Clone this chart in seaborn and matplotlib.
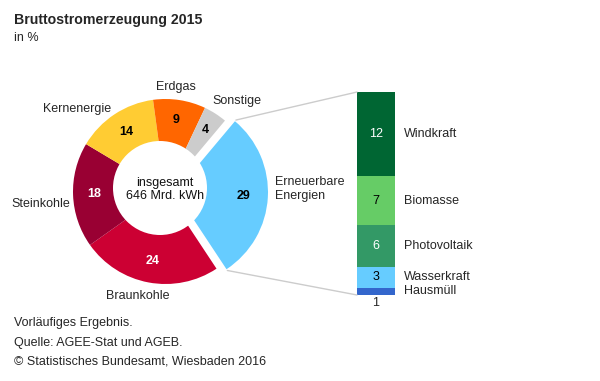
import numpy as np
import pandas as pd
import matplotlib
matplotlib.use("Agg")
import matplotlib.pyplot as plt
from matplotlib.patches import ConnectionPatch, Circle
import seaborn as sns

# ---- data ----
sources = ["Erneuerbare Energien", "Braunkohle", "Steinkohle", "Kernenergie", "Erdgas", "Sonstige"]
shares = [29, 24, 18, 14, 9, 4]
source_colors = ["#66CCFF", "#CC0033", "#990033", "#FFCC33", "#FF6600", "#CCCCCC"]
number_colors = ["black", "white", "white", "black", "black", "black"]

renew = ["Hausmüll", "Wasserkraft", "Photovoltaik", "Biomasse", "Windkraft"]
renew_values = [1, 3, 6, 7, 12]
renew_colors = ["#3366CC", "#66CCFF", "#339966", "#66CC66", "#006633"]
renew_number_colors = ["black", "black", "white", "black", "white"]

title = "Bruttostromerzeugung 2015"
subtitle = "in %"
center_text = "insgesamt\n646 Mrd. kWh"
footer = ["Vorläufiges Ergebnis.", "Quelle: AGEE-Stat und AGEB.",
          "© Statistisches Bundesamt, Wiesbaden 2016"]

sns.set_theme(style="white")
plt.rcParams["font.family"] = ["Liberation Sans", "DejaVu Sans"]

W, H = 600, 381
fig = plt.figure(figsize=(6, 3.81), dpi=100)
ax = fig.add_axes([0, 0, 1, 1])

def Y(y):
    return H - y

# ---- donut (pie + white hole) ----
R = 92.5
cx, cy = 165.5, Y(191.5)
explode = [10] + [0] * (len(shares) - 1)   # pie explode is in data units
wedges, _ = ax.pie(shares, colors=source_colors, startangle=50, counterclock=False,
                   radius=R, center=(cx, cy), explode=explode,
                   wedgeprops=dict(linewidth=0))
ax.add_patch(Circle((160, Y(188)), 47, facecolor="white", linewidth=0, zorder=3))
ax.set_xlim(0, W)
ax.set_ylim(0, H)
ax.set_aspect("auto")
ax.axis("off")

label_r = [68, 71, 71, 71, 72, 73]
for w, v, tc, rm in zip(wedges, shares, number_colors, label_r):
    mid = np.deg2rad((w.theta1 + w.theta2) / 2)
    x = w.center[0] + rm * np.cos(mid)
    y = w.center[1] + rm * np.sin(mid)
    ax.text(x, y, str(v), ha="center", va="center", fontsize=9, fontweight="bold",
            color=tc, zorder=5)

ax.text(165, Y(189.5), center_text, ha="center", va="center", fontsize=9,
        linespacing=1.2, color="#111111", zorder=5)

fs = 9
ax.text(176, Y(87), "Erdgas", ha="center", va="center", fontsize=fs)
ax.text(212, Y(101), "Sonstige", ha="left", va="center", fontsize=fs)
ax.text(111, Y(109), "Kernenergie", ha="right", va="center", fontsize=fs)
ax.text(70, Y(204), "Steinkohle", ha="right", va="center", fontsize=fs)
ax.text(138, Y(296), "Braunkohle", ha="center", va="center", fontsize=fs)
ax.text(275, Y(189), "Erneuerbare\nEnergien", ha="left", va="center", fontsize=fs, linespacing=1.2)

# ---- stacked bar of renewables ----
bx0, bx1, by0, by1 = 357, 395, 92, 295
bax = fig.add_axes([bx0 / W, (H - by1) / H, (bx1 - bx0) / W, (by1 - by0) / H])
cums = np.cumsum(renew_values)
for name, cum, col in reversed(list(zip(renew, cums, renew_colors))):
    df = pd.DataFrame({"g": ["EE"], "v": [cum]})
    sns.barplot(data=df, x="g", y="v", color=col, saturation=1, width=1,
                errorbar=None, linewidth=0, ax=bax)
bax.set_xlim(-0.5, 0.5)
bax.set_ylim(0, cums[-1])
bax.axis("off")

for name, v, cum, tc in zip(renew, renew_values, cums, renew_number_colors):
    yc = cum - v / 2
    if v > 1:
        bax.text(0, yc, str(v), ha="center", va="center", fontsize=9, color=tc)
    bax.text(0.74, yc, name, ha="left", va="center", fontsize=fs, clip_on=False)
bax.text(0, -0.35, str(renew_values[0]), ha="center", va="top", fontsize=9, clip_on=False)

# ---- connector lines ----
ew = wedges[0]
top_th = max(ew.theta1, ew.theta2)
bot_th = min(ew.theta1, ew.theta2)
for th, by in [(top_th, cums[-1]), (bot_th, 0)]:
    t = np.deg2rad(th)
    px = ew.center[0] + (R + 1.5) * np.cos(t)
    py = ew.center[1] + (R + 1.5) * np.sin(t)
    con = ConnectionPatch(xyA=(px, py), coordsA=ax.transData,
                          xyB=(-0.5, by), coordsB=bax.transData,
                          color="#CCCCCC", linewidth=1)
    fig.add_artist(con)

# ---- titles and footer ----
ax.text(14, Y(20), title, ha="left", va="center", fontsize=10.2, fontweight="bold")
ax.text(14, Y(38), subtitle, ha="left", va="center", fontsize=9)
for t, y in zip(footer, [323, 343, 362]):
    ax.text(14, Y(y), t, ha="left", va="center", fontsize=9)

fig.savefig("out.png", dpi=100)
